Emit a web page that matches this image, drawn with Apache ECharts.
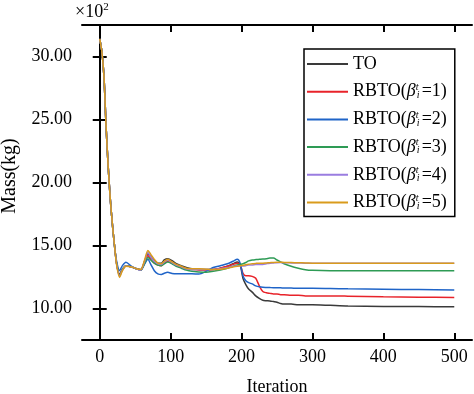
<!DOCTYPE html>
<html>
<head>
<meta charset="utf-8">
<script src="https://cdn.jsdelivr.net/npm/echarts@6/dist/echarts.min.js"></script>
<style>html,body{margin:0;padding:0;background:#fff;}#c{width:474px;height:394px;}</style>
</head>
<body>
<div id="c"></div>
<script>
var iterations = [0,3,6,9,12,15,18,21,24,28,32,37,45,52,58,63,68,72,77,82,87,91,96,102,108,115,122,130,140,150,160,170,180,188,194,198,202,206,210,215,220,225,230,235,240,245,250,255,260,270,280,290,300,325,350,400,450,500];

var seriesNames = ['TO','RBTO(β=1)','RBTO(β=2)','RBTO(β=3)','RBTO(β=4)','RBTO(β=5)'];
var betaValues = [null,1,2,3,4,5];

var massTO = [31.4,30.4,28.4,24.4,21.2,18.6,16.6,14.9,13.5,12.7,13.1,13.4,13.3,13.15,13.1,13.7,14.35,14.1,13.8,13.6,13.6,13.85,13.95,13.8,13.55,13.4,13.25,13.15,13.1,13.1,13.1,13.2,13.35,13.55,13.7,13.5,12.4,11.9,11.55,11.3,11.0,10.8,10.65,10.62,10.6,10.55,10.5,10.4,10.35,10.35,10.3,10.3,10.3,10.25,10.2,10.16,10.15,10.13];
var massB1 = [31.4,30.4,28.4,24.4,21.2,18.6,16.6,14.9,13.5,12.65,13.1,13.4,13.3,13.15,13.05,13.6,14.2,13.9,13.6,13.45,13.4,13.6,13.75,13.6,13.4,13.25,13.15,13.1,13.05,13.05,13.1,13.2,13.35,13.5,13.6,13.5,12.8,12.6,12.6,12.55,12.4,11.8,11.35,11.25,11.2,11.15,11.15,11.1,11.1,11.05,11.05,11.0,11.0,11.0,10.98,10.93,10.9,10.88];
var massB2 = [31.4,30.4,28.4,24.4,21.2,18.6,16.6,14.9,13.7,13.0,13.4,13.67,13.35,13.15,13.05,13.5,13.9,13.5,13.0,12.75,12.7,12.8,12.87,12.78,12.75,12.75,12.75,12.75,12.74,12.95,13.25,13.4,13.55,13.75,13.9,13.6,12.6,12.2,12.05,11.95,11.8,11.72,11.68,11.67,11.66,11.65,11.65,11.64,11.63,11.62,11.6,11.6,11.6,11.58,11.56,11.53,11.5,11.47];
var massB3 = [31.4,30.4,28.4,24.4,21.2,18.6,16.6,14.9,13.5,12.6,13.1,13.4,13.3,13.15,13.05,13.55,14.05,13.85,13.6,13.45,13.4,13.55,13.7,13.55,13.35,13.2,13.05,12.95,12.9,12.87,12.95,13.05,13.2,13.35,13.45,13.5,13.55,13.65,13.78,13.85,13.88,13.9,13.92,13.95,14.0,14.0,13.85,13.7,13.55,13.35,13.2,13.08,13.03,13.0,13.0,13.0,13.0,13.0];
var massB4 = [31.4,30.4,28.4,24.4,21.2,18.6,16.6,14.9,13.45,12.55,13.05,13.38,13.3,13.15,13.05,13.7,14.45,14.1,13.75,13.55,13.5,13.7,13.85,13.65,13.45,13.3,13.15,13.1,13.1,13.1,13.1,13.15,13.25,13.35,13.4,13.4,13.38,13.4,13.45,13.45,13.5,13.5,13.5,13.55,13.6,13.62,13.64,13.65,13.63,13.62,13.61,13.6,13.6,13.6,13.6,13.6,13.6,13.6];
var massB5 = [31.4,30.4,28.4,24.4,21.2,18.6,16.6,14.9,13.4,12.47,13.0,13.35,13.3,13.15,13.1,13.8,14.6,14.3,13.9,13.6,13.55,13.75,13.9,13.7,13.5,13.35,13.2,13.15,13.15,13.12,13.1,13.12,13.2,13.3,13.35,13.4,13.42,13.48,13.52,13.55,13.58,13.6,13.6,13.62,13.64,13.66,13.67,13.67,13.66,13.65,13.63,13.62,13.6,13.6,13.6,13.59,13.59,13.59];

var xTicks = [0,100,200,300,400,500];
var yTicks = [10,15,20,25,30];

var colors = ['#3a3a3a','#e8232a','#1f64c8','#2e9b55','#9a7de0','#d99b1c'];
var allMass = [massTO, massB1, massB2, massB3, massB4, massB5];

var FONT = 'Liberation Serif';

function pairs(vals) {
  return iterations.map(function (it, i) { return [it, vals[i]]; });
}

var series = allMass.map(function (vals, k) {
  return {
    name: seriesNames[k],
    type: 'line',
    data: pairs(vals),
    showSymbol: false,
    symbol: 'none',
    smooth: 0.25,
    lineStyle: { width: 1.5, color: colors[k] },
    itemStyle: { color: colors[k] },
    xAxisIndex: 0,
    yAxisIndex: 0
  };
});

var chart = echarts.init(document.getElementById('c'), null, { renderer: 'canvas' });

var axisLineStyle = { show: true, lineStyle: { color: '#000', width: 2 } };

chart.setOption({
  animation: false,
  backgroundColor: '#fff',
  textStyle: { fontFamily: FONT },
  grid: { left: 82, top: 25, right: 2, bottom: 54, containLabel: false, outerBoundsMode: 'none' },
  legend: {
    orient: 'vertical',
    left: 304,
    top: 49,
    width: 154,
    padding: [5, 8, 4, 2],
    itemWidth: 41,
    itemHeight: 10,
    itemGap: 7.7,
    borderColor: '#000',
    borderWidth: 1.5,
    backgroundColor: '#fff',
    itemStyle: { opacity: 0 },
    data: seriesNames,
    formatter: function (name) {
      var k = seriesNames.indexOf(name);
      if (betaValues[k] == null) return '{n|' + name + '}';
      return '{n|RBTO(}{b|β}{sup|t}{sub|i}{n|=' + betaValues[k] + ')}';
    },
    textStyle: {
      fontFamily: FONT,
      fontSize: 18,
      color: '#000',
      lineHeight: 20,
      rich: {
        n: { fontFamily: FONT, fontSize: 18, color: '#000', lineHeight: 20 },
        b: { fontFamily: FONT, fontSize: 18, fontStyle: 'italic', color: '#000', lineHeight: 20 },
        sup: { fontFamily: FONT, fontSize: 10, fontStyle: 'italic', color: '#000', width: 1, padding: [0, 0, 9, 0], lineHeight: 20 },
        sub: { fontFamily: FONT, fontSize: 10, fontStyle: 'italic', color: '#000', width: 5, padding: [7, 0, 0, 0], lineHeight: 20 }
      }
    }
  },
  xAxis: [{
    type: 'value',
    min: -25,
    max: 525,
    position: 'bottom',
    name: 'Iteration',
    nameLocation: 'middle',
    nameGap: 38,
    nameTextStyle: { fontFamily: FONT, fontSize: 18, color: '#000' },
    axisLine: axisLineStyle,
    axisTick: { show: true, inside: true, length: 7, customValues: xTicks, lineStyle: { color: '#000', width: 2 } },
    axisLabel: { show: true, customValues: xTicks, margin: 8, fontFamily: FONT, fontSize: 18, color: '#000' },
    splitLine: { show: false }
  }, {
    type: 'value',
    min: -25,
    max: 525,
    position: 'top',
    axisLine: axisLineStyle,
    axisTick: { show: true, inside: true, length: 7, customValues: xTicks, lineStyle: { color: '#000', width: 2 } },
    axisLabel: { show: false },
    splitLine: { show: false }
  }],
  yAxis: [{
    type: 'value',
    min: 7.5,
    max: 32.5,
    position: 'left',
    axisLine: axisLineStyle,
    axisTick: { show: true, inside: true, length: 7, customValues: yTicks, lineStyle: { color: '#000', width: 2 } },
    axisLabel: {
      show: true, customValues: yTicks, margin: 10, fontFamily: FONT, fontSize: 18, color: '#000',
      formatter: function (v) { return Number(v).toFixed(2); }
    },
    splitLine: { show: false }
  }, {
    type: 'value',
    min: 7.5,
    max: 32.5,
    position: 'right',
    axisLine: axisLineStyle,
    axisTick: { show: true, inside: true, length: 7, customValues: yTicks, lineStyle: { color: '#000', width: 2 } },
    axisLabel: { show: false },
    splitLine: { show: false }
  }],
  graphic: [{
    type: 'text',
    left: 75,
    top: 2,
    style: {
      text: '{m|×10}{s|2}',
      rich: {
        m: { fontFamily: FONT, fontSize: 18, fill: '#000', color: '#000', lineHeight: 20 },
        s: { fontFamily: FONT, fontSize: 11, fill: '#000', color: '#000', padding: [0, 0, 9, 0], lineHeight: 20 }
      }
    }
  }, {
    type: 'text',
    x: 10,
    y: 176,
    rotation: Math.PI / 2,
    style: {
      text: 'Mass(kg)',
      fontFamily: FONT,
      fontSize: 20,
      fill: '#000',
      align: 'center',
      verticalAlign: 'middle'
    }
  }],
  series: series
});
</script>
</body>
</html>
